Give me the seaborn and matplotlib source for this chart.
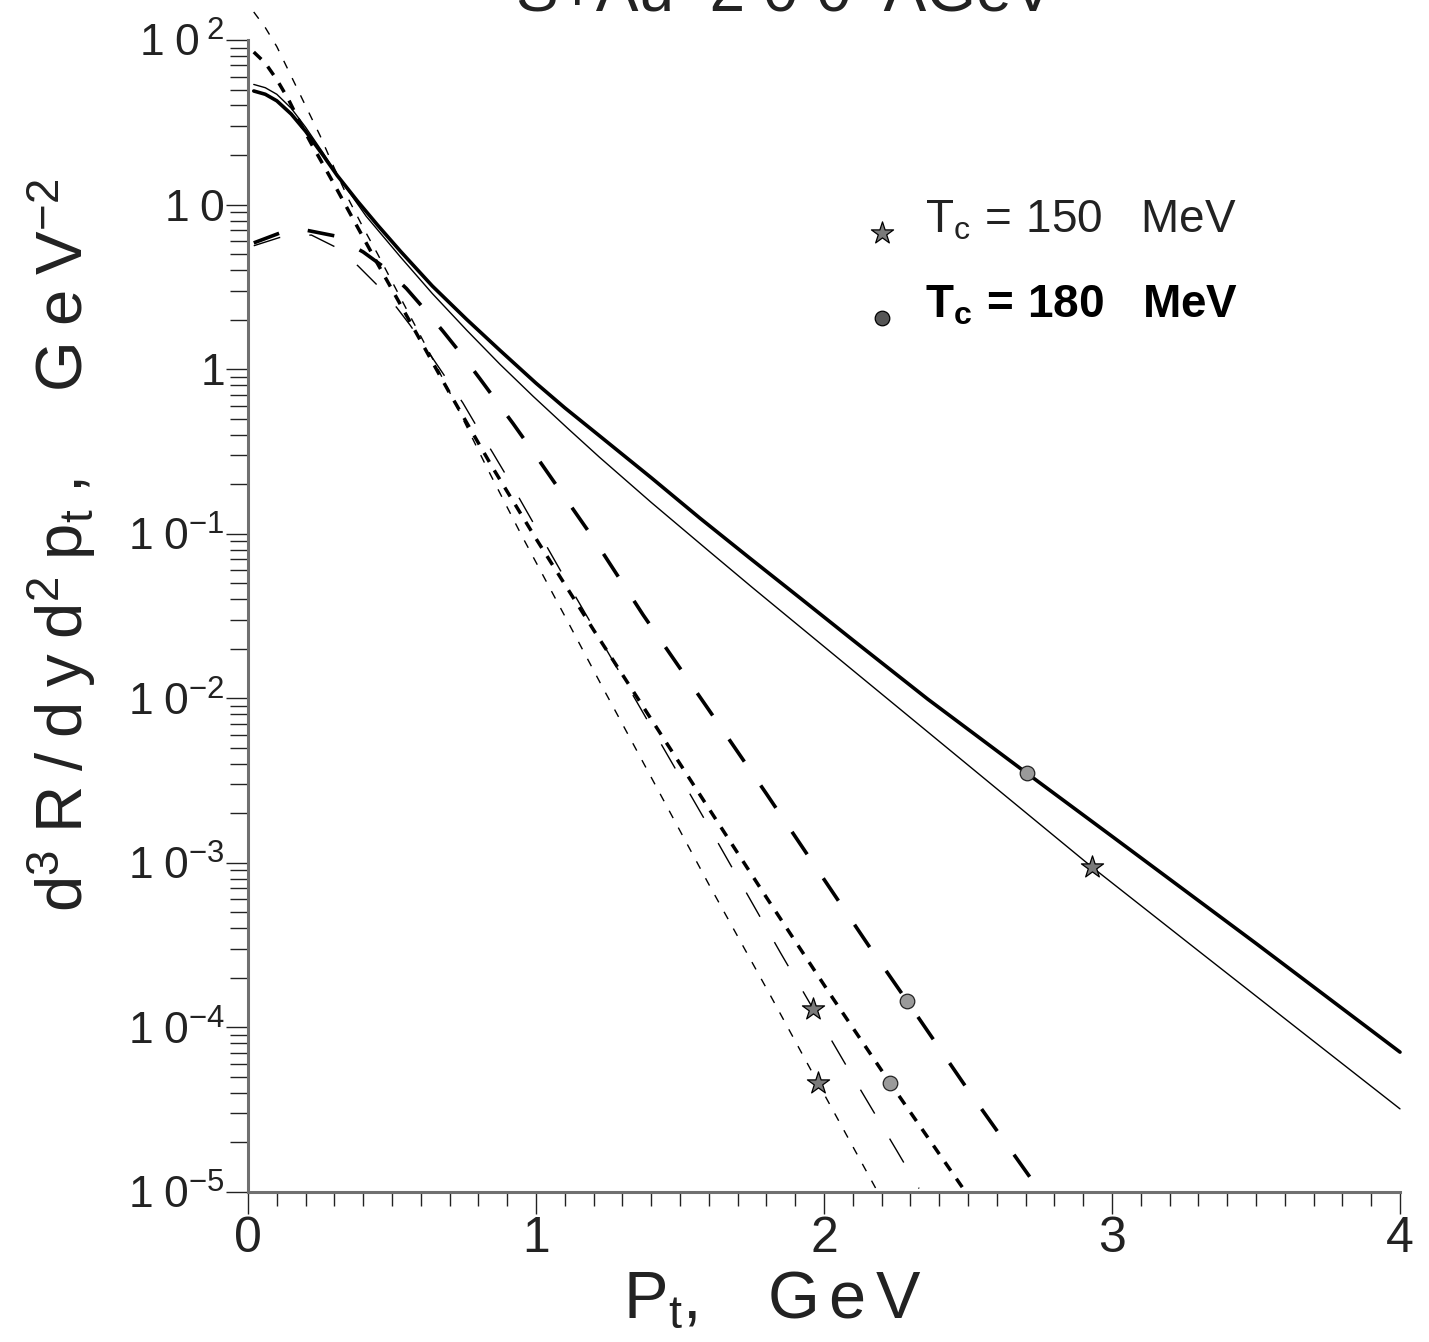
import matplotlib
matplotlib.use("Agg")
import matplotlib.pyplot as plt
import seaborn as sns
from matplotlib.ticker import FixedLocator, FixedFormatter, MultipleLocator, NullFormatter

# ---------------- data ----------------
# Tc = 180 MeV, solid (thick)
pt_solid_180 = [0.02, 0.06, 0.1, 0.15, 0.2, 0.26, 0.31, 0.38, 0.45, 0.53, 0.64, 0.76, 0.875, 1.0, 1.1,
                1.22, 1.4, 1.57, 1.74, 1.92, 2.1, 2.36, 2.7, 3.0, 3.5, 4.0]
rate_solid_180 = [49.0, 46.8, 42.7, 35.5, 27.9, 20.0, 15.0, 10.5, 7.50, 5.19, 3.20, 2.0, 1.30, 0.822, 0.582,
                  0.394, 0.219, 0.124, 0.0716, 0.0403, 0.0226, 9.89e-3, 3.55e-3, 1.45e-3, 3.24e-4, 7.08e-5]
# Tc = 150 MeV, solid (thin)
pt_solid_150 = [0.02, 0.06, 0.1, 0.15, 0.2, 0.26, 0.31, 0.41, 0.53, 0.64, 0.76, 0.875, 0.99, 1.11, 1.22,
                1.4, 1.6, 1.75, 1.92, 2.1, 2.26, 2.6, 2.93, 3.3, 3.65, 4.0]
rate_solid_150 = [53.7, 51.3, 46.8, 38.5, 29.5, 20.7, 15.1, 8.51, 4.79, 2.88, 1.72, 1.07, 0.684, 0.437, 0.292,
                  0.155, 0.0785, 0.0473, 0.0269, 0.0148, 8.71e-3, 2.82e-3, 9.44e-4, 2.92e-4, 9.66e-5, 3.20e-5]
# Tc = 180 MeV, long dashes (thick)
pt_long_180 = [0.02, 0.11, 0.2, 0.3, 0.4, 0.476, 0.55, 0.615, 0.677, 0.743, 0.806, 0.865, 0.92, 0.979,
               1.2, 1.372, 1.6, 1.8, 2.0, 2.16, 2.288, 2.5, 2.735]
rate_long_180 = [5.85, 6.71, 7.00, 6.46, 5.15, 4.12, 3.09, 2.29, 1.70, 1.22, 0.871, 0.631, 0.468, 0.335,
                 0.0933, 0.0321, 8.51e-3, 2.63e-3, 7.94e-4, 3.05e-4, 1.45e-4, 4.17e-5, 1.1e-5]
# Tc = 150 MeV, long dashes (thin)
pt_long_150 = [0.02, 0.11, 0.22, 0.31, 0.382, 0.451, 0.517, 0.563, 0.639, 0.69, 0.746, 0.795, 0.85, 0.9,
               1.1, 1.35, 1.6, 1.847, 1.962, 2.1, 2.253, 2.33]
rate_long_150 = [5.62, 6.31, 6.53, 5.45, 4.24, 3.21, 2.36, 1.85, 1.18, 0.871, 0.624, 0.446, 0.310, 0.221,
                 0.0537, 9.51e-3, 1.66e-3, 2.88e-4, 1.30e-4, 5.01e-5, 1.78e-5, 1.05e-5]
# Tc = 180 MeV, short dashes (thick)
pt_short_180 = [0.02, 0.06, 0.1, 0.14, 0.18, 0.22, 0.26, 0.3, 0.35, 0.4, 0.45, 0.5, 0.6, 0.7, 0.85, 1.0,
                1.2, 1.35, 1.6, 1.8, 2.03, 2.229, 2.48]
rate_short_180 = [84.5, 72.4, 57.5, 43.7, 31.6, 23.4, 17.6, 13.2, 9.12, 6.31, 4.37, 3.05, 1.48, 0.716,
                  0.251, 0.0933, 0.0260, 0.0102, 2.14e-3, 6.17e-4, 1.51e-4, 4.61e-5, 1.07e-5]
# Tc = 150 MeV, short dashes (thin)
pt_short_150 = [0.02, 0.06, 0.1, 0.15, 0.2, 0.25, 0.3, 0.35, 0.4, 0.45, 0.55, 0.65, 0.72, 0.83, 0.95,
                1.1, 1.233, 1.4, 1.6, 1.8125, 1.979, 2.18]
rate_short_150 = [148.0, 119.0, 91.2, 60.3, 39.8, 26.3, 16.6, 10.7, 7.24, 5.01, 2.32, 1.08, 0.617, 0.251,
                  0.0977, 0.0316, 0.0115, 3.31e-3, 7.41e-4, 1.58e-4, 4.60e-5, 1.05e-5]

# markers
star_pt = [2.931, 1.962, 1.979]
star_rate = [9.44e-4, 1.30e-4, 4.60e-5]
circle_pt = [2.705, 2.288, 2.229]
circle_rate = [3.50e-3, 1.45e-4, 4.61e-5]

x_ticks = [0, 1, 2, 3, 4]
x_ticklabels = ["0", "1", "2", "3", "4"]
y_ticks = [1e-5, 1e-4, 1e-3, 1e-2, 1e-1, 1, 10, 100]
y_ticklabels = [r"$\mathregular{1\;0^{-5}}$", r"$\mathregular{1\;0^{-4}}$", r"$\mathregular{1\;0^{-3}}$",
                r"$\mathregular{1\;0^{-2}}$", r"$\mathregular{1\;0^{-1}}$",
                r"$\mathregular{1\ \ \ \ \ \ \ \ \ }$", r"$\mathregular{1\;0\ \ \ \ \ \ \ \ }$",
                r"$\mathregular{1\;0^{\;2}\ \ }$"]
legend_labels = [r"$\mathregular{T_c\,=\,150\ \ \ MeV}$", r"$\mathregular{T_c\,=\,180\ \ \ MeV}$"]
title_text = "S+Au  2 0 0  AGeV"

# ---------------- style ----------------
sns.set_theme(style="white")
FONT = ["Liberation Sans", "DejaVu Sans"]
plt.rcParams["font.family"] = FONT
plt.rcParams["mathtext.fontset"] = "custom"
plt.rcParams["mathtext.rm"] = "Liberation Sans"
plt.rcParams["mathtext.it"] = "Liberation Sans"

fig = plt.figure(figsize=(14.29, 13.42), dpi=100)
ax = fig.add_axes([248 / 1429, 1 - 1192 / 1342, 1152 / 1429, 1152 / 1342])

TH, TN = 2.6, 1.0
series = [
    (pt_solid_180, rate_solid_180, TH, "-"),
    (pt_solid_150, rate_solid_150, TN, "-"),
    (pt_long_180, rate_long_180, TH, (0, (7.5, 8.0))),
    (pt_long_150, rate_long_150, TN, (0, (20.0, 21.0))),
    (pt_short_180, rate_short_180, 2.5, (0, (3.0, 2.8))),
    (pt_short_150, rate_short_150, TN, (0, (6.0, 7.8))),
]
for xs, ys, lw, ls in series:
    sns.lineplot(x=xs, y=ys, ax=ax, color="black", linewidth=lw, linestyle=ls,
                 estimator=None, sort=False, clip_on=False, legend=False)

sns.scatterplot(x=star_pt, y=star_rate, ax=ax, marker="*", s=280, color="#7a7a7a",
                edgecolor="black", linewidth=0.9, zorder=5, clip_on=False, legend=False)
sns.scatterplot(x=circle_pt, y=circle_rate, ax=ax, marker="o", s=110, color="#9a9a9a",
                edgecolor="#222222", linewidth=0.9, zorder=5, clip_on=False, legend=False)

ax.set_yscale("log")
ax.set_xlim(0, 4)
ax.set_ylim(1e-5, 1e2)

ax.xaxis.set_major_locator(FixedLocator(x_ticks))
ax.xaxis.set_major_formatter(FixedFormatter(x_ticklabels))
ax.xaxis.set_minor_locator(MultipleLocator(0.1))
ax.xaxis.set_minor_formatter(NullFormatter())
ax.yaxis.set_major_locator(FixedLocator(y_ticks))
ax.yaxis.set_major_formatter(FixedFormatter(y_ticklabels))
ax.yaxis.set_minor_locator(FixedLocator([m * 10.0 ** e for e in range(-5, 2) for m in range(2, 10)]))
ax.yaxis.set_minor_formatter(NullFormatter())

for s in ["top", "right"]:
    ax.spines[s].set_visible(False)
for s in ["left", "bottom"]:
    ax.spines[s].set_color("#707070")
    ax.spines[s].set_linewidth(2.2)

ax.tick_params(which="both", bottom=True, left=True, top=False, right=False)
ax.tick_params(axis="x", which="major", direction="out", length=16, width=1.0, color="#222222",
               labelsize=36, pad=1, labelcolor="#222222")
ax.tick_params(axis="x", which="minor", direction="out", length=10, width=1.0, color="#222222")
ax.tick_params(axis="y", which="major", direction="out", length=16, width=1.0, color="#222222",
               labelsize=32, pad=1, labelcolor="#222222")
ax.tick_params(axis="y", which="minor", direction="out", length=13, width=1.0, color="#222222")

ax.set_xlabel("")
ax.set_ylabel("")
fig.text(62 / 1429, 1 - 545 / 1342,
         r"$\mathregular{d^{3}\;R\;/\;d\;y\;d^{2}\;p_{t}\;,\ \ \ \ G\;e\;V^{-2}}$",
         rotation=90, ha="center", va="center", fontsize=47, color="#222222")
fig.text(772 / 1429, 1 - 1318 / 1342, r"$\mathregular{P_t,\ \ \ G\,e\,V}$",
         ha="center", va="baseline", fontsize=48, color="#222222")
fig.text(785 / 1429, 1 - 12 / 1342, title_text, ha="center", va="baseline",
         fontsize=46, color="#222222")

# legend
ax.scatter([0.550], [0.8325], transform=ax.transAxes, marker="*", s=280, color="#7a7a7a",
           edgecolor="black", linewidth=0.9, clip_on=False, zorder=6)
ax.scatter([0.550], [0.7587], transform=ax.transAxes, marker="o", s=110, color="#555555",
           edgecolor="black", linewidth=0.9, clip_on=False, zorder=6)
ax.text(0.588, 0.8325, legend_labels[0], transform=ax.transAxes, ha="left", va="baseline",
        fontsize=33, color="#222222")
ax.text(0.588, 0.7587, legend_labels[1], transform=ax.transAxes, ha="left", va="baseline",
        fontsize=33, color="black", fontweight="semibold")

fig.savefig("out.png", dpi=100)
